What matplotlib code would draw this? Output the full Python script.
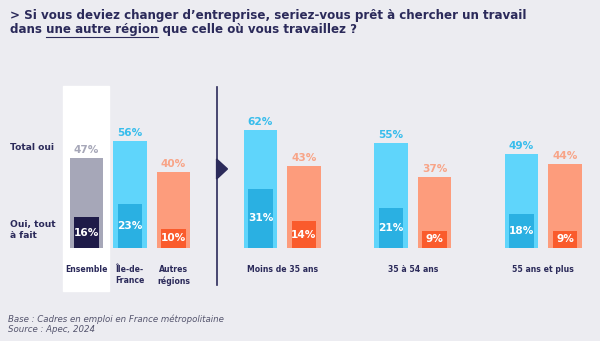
import matplotlib.pyplot as plt
from matplotlib.patches import Polygon, Rectangle

# données
groupes = ['Ensemble', 'Île-de-\nFrance', 'Autres\nrégions']
total_groupes = [47, 56, 40]
tout_a_fait_groupes = [16, 23, 10]

ages = ['Moins de 35 ans', '35 à 54 ans', '55 ans et plus']
total_idf = [62, 55, 49]
total_autres = [43, 37, 44]
tout_idf = [31, 21, 18]
tout_autres = [14, 9, 9]

fond = '#ECECF1'
marine = '#2B2A5A'
gris, gris_fonce = '#A6A7B8', '#1E1B48'
bleu, bleu_fonce, bleu_txt = '#5FD5FB', '#2AB0E2', '#38BDEC'
saumon, saumon_fonce, saumon_txt = '#FD9C7C', '#FA5B2C', '#F8A487'

fig = plt.figure(figsize=(6, 3.41), dpi=100, facecolor=fond)
ax = fig.add_axes([0, 0, 1, 1])
ax.set_facecolor(fond)
px = 43.5          # pixels par emplacement de barre
py = 1.91          # pixels par point de %
ax.set_xlim(-86.5 / px, (600 - 86.5) / px)
ax.set_ylim((248 - 341) / py, 248 / py)
ax.axis('off')

w_out, w_in = 0.76, 0.57

# fond blanc derrière "Ensemble"
ax.add_patch(Rectangle((-0.54, -22.5), 1.06, 107.3, color='white', zorder=0))

pos_g = [0, 1, 2]
cols_g = [gris, bleu, saumon]
cols_gf = [gris_fonce, bleu_fonce, saumon_fonce]
cols_gt = [gris, bleu_txt, saumon_txt]
ax.bar(pos_g, total_groupes, w_out, color=cols_g, zorder=2)
ax.bar(pos_g, tout_a_fait_groupes, w_in, color=cols_gf, zorder=3)

pos_i = [4, 7, 10]
pos_a = [5, 8, 11]
ax.bar(pos_i, total_idf, w_out, color=bleu, zorder=2)
ax.bar(pos_a, total_autres, w_out, color=saumon, zorder=2)
ax.bar(pos_i, tout_idf, w_in, color=bleu_fonce, zorder=3)
ax.bar(pos_a, tout_autres, w_in, color=saumon_fonce, zorder=3)

fs_val = 7.6
xs = pos_g + pos_i + pos_a
tot = total_groupes + total_idf + total_autres
tout = tout_a_fait_groupes + tout_idf + tout_autres
ctxt = cols_gt + [bleu_txt] * 3 + [saumon_txt] * 3
for x, t, s, c in zip(xs, tot, tout, ctxt):
    ax.text(x, t + 1.6, f'{t}%', ha='center', va='bottom', fontsize=fs_val,
            fontweight='bold', color=c)
    ax.text(x, s / 2, f'{s}%', ha='center', va='center', fontsize=fs_val,
            fontweight='bold', color='white', zorder=4)

# libellés de catégories
fs_cat = 5.6
for x, lab in zip(pos_g, groupes):
    ax.text(x, -8.9, lab, ha='center', va='top', fontsize=fs_cat,
            fontweight='bold', color=marine, linespacing=1.35)
for xi, xa, lab in zip(pos_i, pos_a, ages):
    ax.text((xi + xa) / 2, -8.9, lab, ha='center', va='top', fontsize=fs_cat,
            fontweight='bold', color=marine)

# séparateur avec flèche
ax.plot([3, 3], [(248 - 87) / py, (248 - 285) / py], color=marine, lw=1.2)
ax.add_patch(Polygon([(2.99, 46.6), (3.24, 41.4), (2.99, 36.1)],
                     closed=True, color=marine, zorder=3))

# libellés de lignes
ax.text(-1.76, 52.5, 'Total oui', ha='left', va='center', fontsize=6.6,
        fontweight='bold', color=marine)
ax.text(-1.76, 9.5, 'Oui, tout\nà fait', ha='left', va='center', fontsize=6.6,
        fontweight='bold', color=marine, linespacing=1.25)

# titre
fs_t = 8.6
fig.text(10 / 600, 1 - 15 / 341,
         "> Si vous deviez changer d’entreprise, seriez-vous prêt à chercher un travail",
         ha='left', va='center', fontsize=fs_t, fontweight='bold', color=marine)
l2 = fig.text(10 / 600, 1 - 30 / 341,
              'dans une autre région que celle où vous travaillez ?',
              ha='left', va='center', fontsize=fs_t, fontweight='bold', color=marine)

# soulignement de "une autre région"
fig.canvas.draw()
r = fig.canvas.get_renderer()
def largeur(s):
    t = fig.text(0, 0, s, fontsize=fs_t, fontweight='bold', alpha=0)
    w = t.get_window_extent(r).width
    t.remove()
    return w
x0 = 10 + largeur('dans u') - largeur('u')
x1 = 10 + largeur('dans une autre région')
bb = l2.get_window_extent(r)
yl = bb.y0 - 0.5
fig.add_artist(plt.Line2D([x0 / 600, x1 / 600], [yl / 341, yl / 341],
                          transform=fig.transFigure, color=marine, lw=0.8))

# sources
fig.text(8 / 600, 1 - 319 / 341, 'Base : Cadres en emploi en France métropolitaine',
         ha='left', va='center', fontsize=6.2, style='italic', color='#55556E')
fig.text(8 / 600, 1 - 330 / 341, 'Source : Apec, 2024',
         ha='left', va='center', fontsize=6.2, style='italic', color='#55556E')

fig.savefig('out.png', dpi=100, facecolor=fond)
